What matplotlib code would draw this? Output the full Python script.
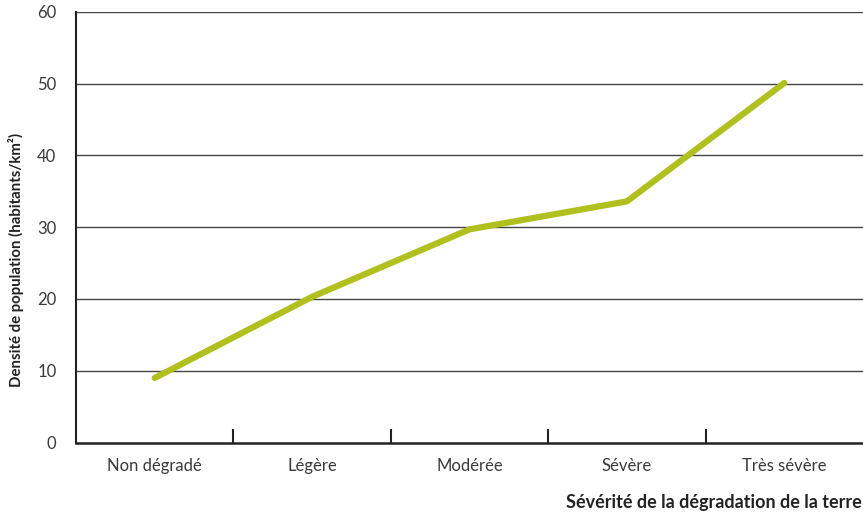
import matplotlib
matplotlib.use("Agg")
import matplotlib.pyplot as plt
import numpy as np

categories = ["Non dégradé", "Légère", "Modérée", "Sévère", "Très sévère"]
densite = [9.0, 20.3, 29.7, 33.6, 50.1]
yticks = [0, 10, 20, 30, 40, 50, 60]

plt.rcParams['font.family'] = ['Lato', 'DejaVu Sans']

fig = plt.figure(figsize=(8.63, 5.17), dpi=100)
ax = fig.add_axes([0.088, 0.144, 0.912, 0.833])

x = np.arange(len(categories))
ax.plot(x, densite, color='#afc01f', lw=4.5, solid_capstyle='round', zorder=3)

ax.set_xlim(-0.5, len(categories) - 0.5)
ax.set_ylim(0, 60)
ax.set_yticks(yticks)
ax.set_yticklabels([str(v) for v in yticks], fontsize=12, color='#3a3a3a')
for v in yticks[1:]:
    ax.axhline(v, color='#444444', lw=1.0, zorder=1)

ax.set_xticks(x)
ax.set_xticklabels(categories, fontsize=12, color='#3a3a3a')
ax.set_xticks(np.arange(0.5, len(categories) - 1, 1), minor=True)
ax.tick_params(axis='x', which='major', length=0, pad=11)
ax.tick_params(axis='x', which='minor', direction='in', length=10, width=1.5, color='#222222')
ax.tick_params(axis='y', length=0, pad=14)

for s in ['top', 'right']:
    ax.spines[s].set_visible(False)
ax.spines['left'].set_linewidth(1.5)
ax.spines['bottom'].set_linewidth(1.8)
ax.spines['left'].set_color('#222222')
ax.spines['bottom'].set_color('#222222')

ax.set_ylabel("Densité de population (habitants/km²)", fontsize=10.8, fontweight='bold',
              color='#222222')
ax.yaxis.set_label_coords(-0.066, 0.424)
fig.text(0.999, 0.012, "Sévérité de la dégradation de la terre", ha='right', va='bottom',
         fontsize=13, fontweight='bold', color='#222222')

fig.savefig("out.png", dpi=100)
